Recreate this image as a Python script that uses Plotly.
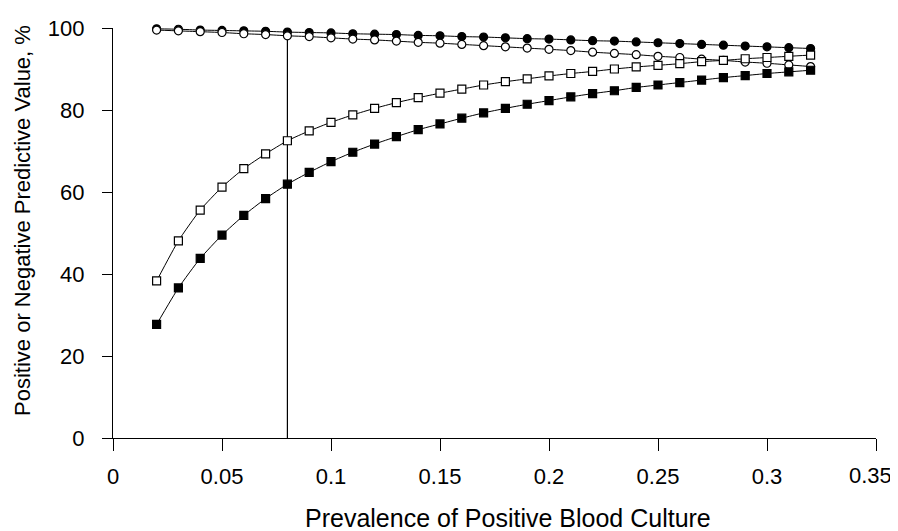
import plotly.graph_objects as go

prevalence = [0.02, 0.03, 0.04, 0.05, 0.06, 0.07, 0.08, 0.09, 0.10, 0.11, 0.12,
              0.13, 0.14, 0.15, 0.16, 0.17, 0.18, 0.19, 0.20, 0.21, 0.22, 0.23,
              0.24, 0.25, 0.26, 0.27, 0.28, 0.29, 0.30, 0.31, 0.32]

npv_filled = [99.8, 99.7, 99.5, 99.4, 99.3, 99.2, 99.0, 98.9, 98.8, 98.6, 98.5,
              98.4, 98.2, 98.1, 97.9, 97.8, 97.6, 97.4, 97.3, 97.1, 96.9, 96.8,
              96.6, 96.4, 96.2, 96.0, 95.8, 95.6, 95.4, 95.2, 95.0]

npv_open = [99.5, 99.3, 99.1, 98.9, 98.6, 98.4, 98.1, 97.9, 97.6, 97.3, 97.1,
            96.8, 96.5, 96.3, 96.0, 95.7, 95.4, 95.1, 94.8, 94.5, 94.1, 93.8,
            93.5, 93.1, 92.8, 92.4, 92.1, 91.7, 91.4, 91.0, 90.6]

ppv_open = [38.3, 48.1, 55.6, 61.2, 65.7, 69.3, 72.5, 74.9, 77.0, 78.8, 80.4,
            81.8, 83.0, 84.1, 85.1, 86.1, 86.9, 87.6, 88.3, 88.9, 89.4, 90.0,
            90.5, 90.9, 91.3, 91.8, 92.1, 92.5, 92.8, 93.1, 93.4]

ppv_filled = [27.7, 36.6, 43.8, 49.5, 54.3, 58.4, 61.9, 64.8, 67.4, 69.7, 71.7,
              73.5, 75.2, 76.6, 78.0, 79.3, 80.4, 81.4, 82.3, 83.2, 84.0, 84.7,
              85.5, 86.1, 86.7, 87.3, 87.9, 88.4, 88.9, 89.3, 89.7]

cutoff_x = 0.08
cutoff_top = 98.1

x_ticks = [0, 0.05, 0.1, 0.15, 0.2, 0.25, 0.3, 0.35]
x_tick_labels = ["0", "0.05", "0.1", "0.15", "0.2", "0.25", "0.3", "0.35"]
y_ticks = [0, 20, 40, 60, 80, 100]

x_title = "Prevalence of Positive Blood Culture"
y_title = "Positive or Negative Predictive Value, %"

fig = go.Figure()

fig.add_trace(go.Scatter(
    x=[cutoff_x, cutoff_x], y=[0, cutoff_top], mode="lines",
    line=dict(color="black", width=1.2), showlegend=False, hoverinfo="skip",
    cliponaxis=False))

series = [
    (npv_filled, "circle", "black"),
    (npv_open, "circle", "white"),
    (ppv_open, "square", "white"),
    (ppv_filled, "square", "black"),
]
for vals, sym, fill in series:
    fig.add_trace(go.Scatter(
        x=prevalence, y=vals, mode="lines+markers",
        line=dict(color="black", width=1, shape="spline", smoothing=0.5),
        marker=dict(symbol=sym, size=8, color=fill,
                    line=dict(color="black", width=1.2)),
        showlegend=False, cliponaxis=False))

font_family = "Liberation Sans, Arial, Helvetica, sans-serif"

# last x tick label is drawn as an annotation nudged left so it fits the window
shown_x_labels = x_tick_labels[:-1] + [""]

annotations = [
    dict(text=x_title, xref="paper", yref="paper", x=0.5, y=0,
         xanchor="center", yanchor="middle", xshift=13, yshift=-80,
         showarrow=False, font=dict(size=25)),
    dict(text=y_title, xref="paper", yref="paper", x=0, y=0.5,
         xanchor="center", yanchor="middle", xshift=-91, yshift=12,
         textangle=-90, showarrow=False, font=dict(size=22)),
    dict(text=x_tick_labels[-1], xref="x", yref="paper", x=x_ticks[-1], y=0,
         xanchor="center", yanchor="middle", xshift=-6, yshift=-37,
         showarrow=False, font=dict(size=22)),
]

# The page body adds an 8px offset, so the figure is sized to fit the window.
fig.update_layout(
    width=890, height=523,
    margin=dict(l=105, r=22, t=20, b=93),
    paper_bgcolor="white", plot_bgcolor="white",
    font=dict(family=font_family, color="black", size=22),
    xaxis=dict(
        range=[0, 0.35], tickvals=x_ticks, ticktext=shown_x_labels,
        showline=True, linecolor="black", linewidth=1.2,
        ticks="outside", ticklen=12, tickwidth=1.2, tickcolor="black",
        showgrid=False, zeroline=False, tickfont=dict(size=22),
        ticklabelstandoff=6, automargin=False),
    yaxis=dict(
        range=[0, 100], tickvals=y_ticks,
        showline=True, linecolor="black", linewidth=1.2,
        ticks="outside", ticklen=10, tickwidth=1.2, tickcolor="black",
        showgrid=False, zeroline=False, tickfont=dict(size=22),
        ticklabelstandoff=13, automargin=False),
    annotations=annotations,
)

fig.write_html("out.html")
